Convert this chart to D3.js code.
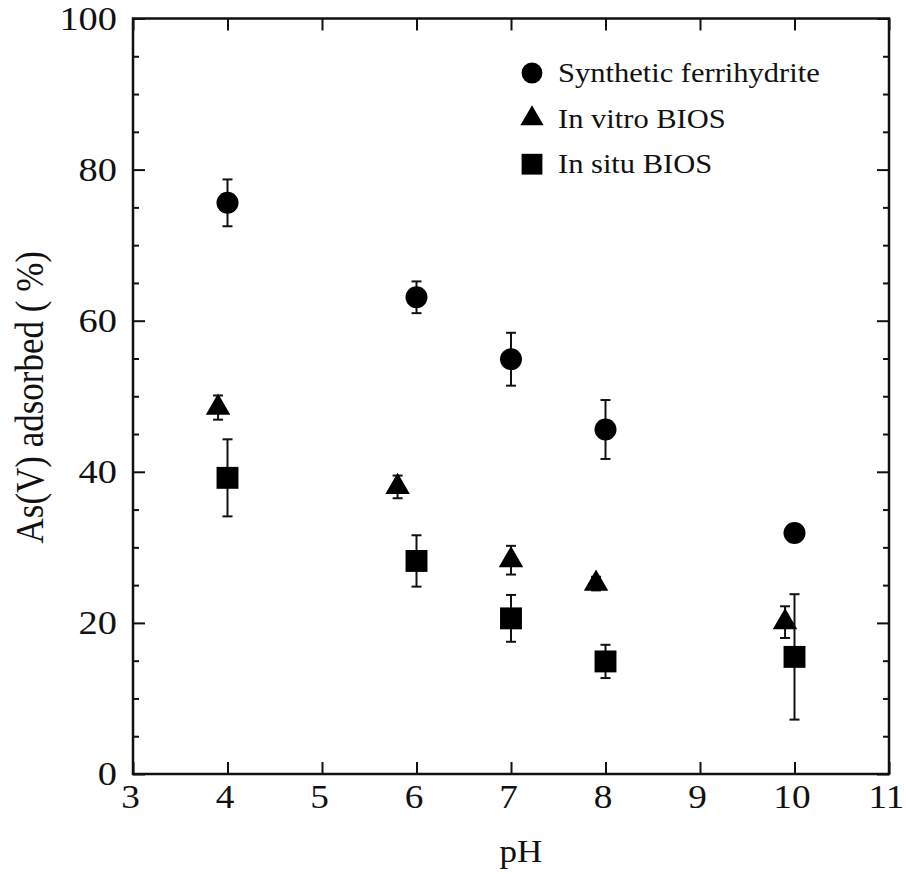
<!DOCTYPE html>
<html>
<head>
<meta charset="utf-8">
<script src="https://cdn.jsdelivr.net/npm/d3@7"></script>
<style>
  body { margin: 0; background: #fff; }
  #chart { width: 906px; height: 874px; }
  .axis path, .axis line { stroke: #111; stroke-width: 2; }
</style>
</head>
<body>
<div id="chart"></div>
<script>
// data: pH, percent adsorbed, error (+/-)
const ferriPH = [4, 6, 7, 8, 10];
const ferriVal = [75.6, 63.1, 54.9, 45.6, 31.9];
const ferriErr = [3.1, 2.1, 3.5, 3.9, 0];

const vitroPH = [3.9, 5.8, 7, 7.9, 9.9];
const vitroVal = [48.5, 38.0, 28.3, 25.2, 20.1];
const vitroErr = [1.6, 1.5, 1.9, 0.9, 2.1];

const situPH = [4, 6, 7, 8, 10];
const situVal = [39.2, 28.2, 20.6, 14.9, 15.5];
const situErr = [5.1, 3.4, 3.1, 2.2, 8.3];

const legendLabels = ["Synthetic ferrihydrite", "In vitro BIOS", "In situ BIOS"];
const symbols = [d3.symbolCircle, d3.symbolTriangle, d3.symbolSquare];
const symbolSizes = [380, 260, 480];

const xTicks = [3, 4, 5, 6, 7, 8, 9, 10, 11];
const yTicks = [0, 20, 40, 60, 80, 100];
const yMinorTicks = [5, 10, 15, 25, 30, 35, 45, 50, 55, 65, 70, 75, 85, 90, 95];

const serif = "'Liberation Serif', 'Times New Roman', Times, serif";
const stretchK = 1.13; // the original figure's lettering is a bit wide

const width = 906;
const height = 874;
const margin = { top: 18.5, left: 133, right: 17, bottom: 100 };

const svg = d3.select("#chart")
    .append("svg")
    .attr("width", width)
    .attr("height", height);

const xScale = d3.scaleLinear()
    .domain([3, 11])
    .range([margin.left, width - margin.right]);

const yScale = d3.scaleLinear()
    .domain([0, 100])
    .range([height - margin.bottom, margin.top]);

// widen text horizontally around its anchor point
function stretch(sel, dx = 0) {
    sel.each(function () {
        const t = d3.select(this);
        const x = (+t.attr("x") || 0) + dx;
        const y = +t.attr("y") || 0;
        t.attr("x", 0).attr("y", 0)
            .attr("transform", `translate(${x},${y}) scale(${stretchK},1)`);
    });
}

// frame
svg.append("rect")
    .attr("x", margin.left)
    .attr("y", margin.top)
    .attr("width", width - margin.left - margin.right)
    .attr("height", height - margin.top - margin.bottom)
    .attr("fill", "none")
    .attr("stroke", "#111")
    .attr("stroke-width", 2.5);

// bottom axis with labels, ticks pointing inward
svg.append("g")
    .attr("class", "axis")
    .attr("transform", `translate(0,${height - margin.bottom})`)
    .call(d3.axisBottom(xScale).tickValues(xTicks).tickSize(-12).tickPadding(11).tickFormat(d3.format("d")))
    .call(g => g.select(".domain").remove())
    .selectAll("text").style("font-size", "33px").call(stretch, -3);

// top axis, ticks only
svg.append("g")
    .attr("class", "axis")
    .attr("transform", `translate(0,${margin.top})`)
    .call(d3.axisTop(xScale).tickValues(xTicks).tickSize(-12).tickFormat(""))
    .call(g => g.select(".domain").remove());

// left axis
svg.append("g")
    .attr("class", "axis")
    .attr("transform", `translate(${margin.left},0)`)
    .call(d3.axisLeft(yScale).tickValues(yTicks).tickSize(-12).tickPadding(16))
    .call(g => g.select(".domain").remove())
    .selectAll("text").style("font-size", "34px").call(stretch);

svg.append("g")
    .attr("class", "axis")
    .attr("transform", `translate(${margin.left},0)`)
    .call(d3.axisLeft(yScale).tickValues(yMinorTicks).tickSize(-6).tickFormat(""))
    .call(g => g.select(".domain").remove());

// right axis, ticks only
svg.append("g")
    .attr("class", "axis")
    .attr("transform", `translate(${width - margin.right},0)`)
    .call(d3.axisRight(yScale).tickValues(yTicks).tickSize(-12).tickFormat(""))
    .call(g => g.select(".domain").remove());

svg.append("g")
    .attr("class", "axis")
    .attr("transform", `translate(${width - margin.right},0)`)
    .call(d3.axisRight(yScale).tickValues(yMinorTicks).tickSize(-6).tickFormat(""))
    .call(g => g.select(".domain").remove());

// series
const series = [
    { ph: ferriPH, val: ferriVal, err: ferriErr },
    { ph: vitroPH, val: vitroVal, err: vitroErr },
    { ph: situPH, val: situVal, err: situErr }
];

series.forEach(function (s, i) {
    const pts = s.ph.map((p, j) => ({ ph: p, val: s.val[j], err: s.err[j] }));
    const g = svg.append("g");

    // error bars
    const eb = g.selectAll(".err")
        .data(pts.filter(d => d.err > 0))
        .enter()
        .append("g")
        .attr("stroke", "#111")
        .attr("stroke-width", 2);

    eb.append("line")
        .attr("x1", d => xScale(d.ph))
        .attr("x2", d => xScale(d.ph))
        .attr("y1", d => yScale(d.val + d.err))
        .attr("y2", d => yScale(d.val - d.err));

    eb.append("line")
        .attr("x1", d => xScale(d.ph) - 5)
        .attr("x2", d => xScale(d.ph) + 5)
        .attr("y1", d => yScale(d.val + d.err))
        .attr("y2", d => yScale(d.val + d.err));

    eb.append("line")
        .attr("x1", d => xScale(d.ph) - 5)
        .attr("x2", d => xScale(d.ph) + 5)
        .attr("y1", d => yScale(d.val - d.err))
        .attr("y2", d => yScale(d.val - d.err));

    // markers
    g.selectAll("path.mark")
        .data(pts)
        .enter()
        .append("path")
        .attr("class", "mark")
        .attr("d", d3.symbol().type(symbols[i]).size(symbolSizes[i]))
        .attr("transform", d => `translate(${xScale(d.ph)},${yScale(d.val)})`)
        .attr("fill", "#000");
});

// legend
const legend = svg.append("g")
    .attr("transform", "translate(532,73)");

legendLabels.forEach(function (lab, i) {
    legend.append("path")
        .attr("d", d3.symbol().type(symbols[i]).size(symbolSizes[i] * 0.9))
        .attr("transform", `translate(0,${i * 45.6})`)
        .attr("fill", "#000");
    legend.append("text")
        .attr("x", 26)
        .attr("y", i * 45.6 + 9)
        .style("font-size", "27px")
        .text(lab)
        .call(stretch);
});

// axis titles
svg.append("text")
    .attr("x", 521)
    .attr("y", 862)
    .attr("text-anchor", "middle")
    .style("font-size", "31px")
    .text("pH")
    .call(stretch);

svg.append("text")
    .attr("transform", `rotate(-90) translate(${-(margin.top + height - margin.bottom) / 2 - 1},43) scale(1,${stretchK})`)
    .attr("text-anchor", "middle")
    .style("font-size", "35px")
    .text("As(V) adsorbed ( %)");

// serif everywhere, over d3's default sans-serif on the axis groups
svg.selectAll("g.axis").attr("font-family", serif);
svg.selectAll("text").style("font-family", serif).style("fill", "#111");
</script>
</body>
</html>
